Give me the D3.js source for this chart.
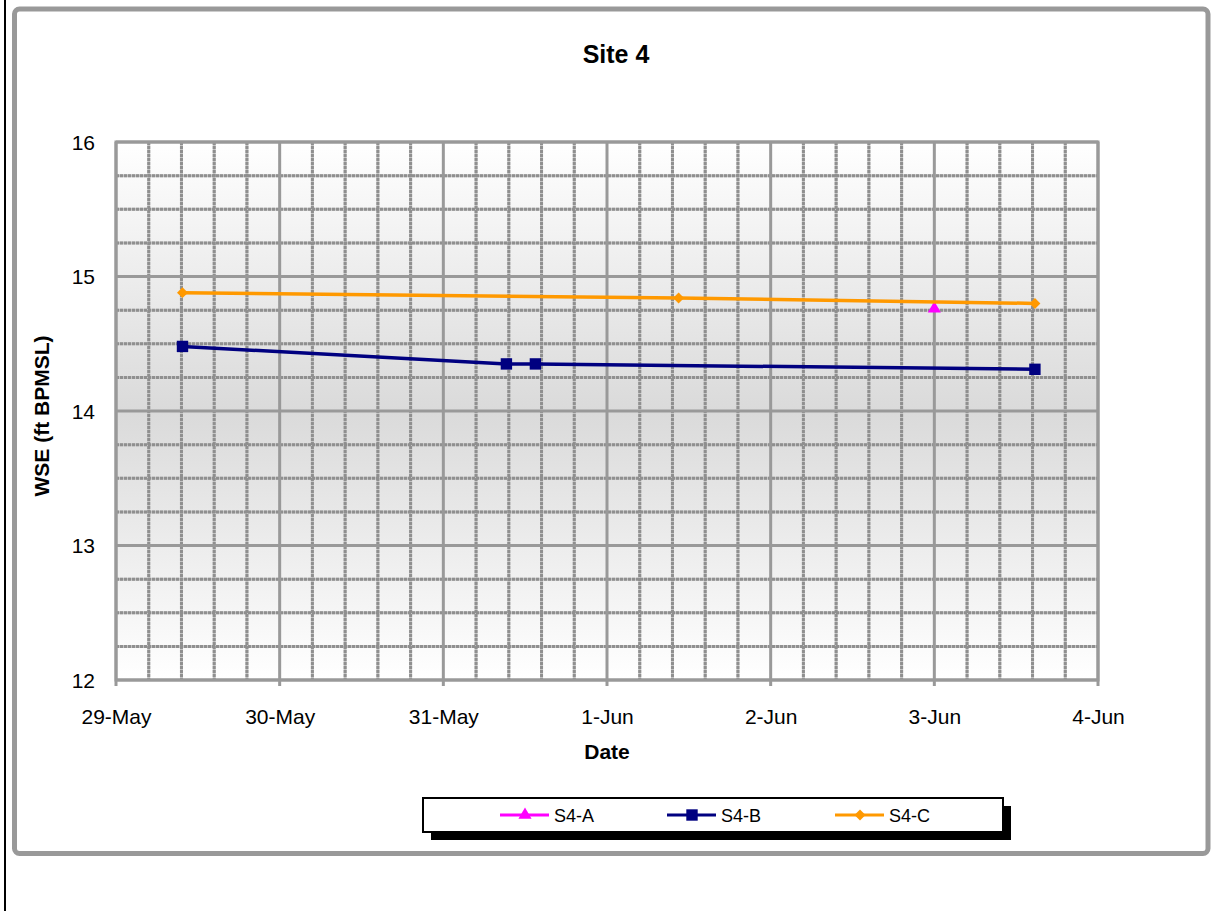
<!DOCTYPE html>
<html>
<head>
<meta charset="utf-8">
<script src="https://cdn.jsdelivr.net/npm/d3@7"></script>
<style>
  html, body { margin: 0; padding: 0; background: #fff; }
  svg { display: block; }
  text { font-family: "Liberation Sans", Arial, sans-serif; fill: #000; }
</style>
</head>
<body>
<svg id="chart" width="1214" height="911"></svg>
<script>
// ---- data ----
const chartTitle = "Site 4";
const xAxisTitle = "Date";
const yAxisTitle = "WSE (ft BPMSL)";
const seriesNames = ["S4-A", "S4-B", "S4-C"];
const seriesColors = ["#FF00FF", "#000080", "#FF9900"];
const seriesMarkers = ["triangle", "square", "diamond"];

const datesA = ["2009-06-03T00:00"];
const valuesA = [14.76];
const datesB = ["2009-05-29T09:45", "2009-05-31T09:15", "2009-05-31T13:30", "2009-06-03T14:45"];
const valuesB = [14.48, 14.35, 14.35, 14.31];
const datesC = ["2009-05-29T09:45", "2009-06-01T10:30", "2009-06-03T14:45"];
const valuesC = [14.88, 14.84, 14.80];

const xDomain = ["2009-05-29T00:00", "2009-06-04T00:00"];
const yDomain = [12, 16];
const yTicks = [12, 13, 14, 15, 16];

// ---- layout ----
const parse = d3.isoParse;
const svg = d3.select("#chart");
const plot = { left: 116, right: 1098, top: 142, bottom: 680 };

const x = d3.scaleTime().domain(xDomain.map(parse)).range([plot.left, plot.right]);
const y = d3.scaleLinear().domain(yDomain).range([plot.bottom, plot.top]);

// outer left black line
svg.append("line").attr("x1", 5).attr("x2", 5).attr("y1", 0).attr("y2", 911)
  .attr("stroke", "#000").attr("stroke-width", 2);

// chart area frame
svg.append("rect").attr("x", 14.5).attr("y", 9).attr("width", 1193.5).attr("height", 844.5)
  .attr("rx", 5).attr("fill", "#fff").attr("stroke", "#999").attr("stroke-width", 5);

// gradient background
const defs = svg.append("defs");
const grad = defs.append("linearGradient").attr("id", "bg").attr("x1", 0).attr("x2", 0).attr("y1", 0).attr("y2", 1);
grad.append("stop").attr("offset", "0%").attr("stop-color", "#ffffff");
grad.append("stop").attr("offset", "50%").attr("stop-color", "#dadada");
grad.append("stop").attr("offset", "100%").attr("stop-color", "#ffffff");

svg.append("rect").attr("x", plot.left).attr("y", plot.top)
  .attr("width", plot.right - plot.left).attr("height", plot.bottom - plot.top)
  .attr("fill", "url(#bg)");

// grid
const t0 = x.domain()[0].getTime(), t1 = x.domain()[1].getTime();
const step = (t1 - t0) / 30; // 0.2 day
const xGrid = d3.range(0, 31).map(i => ({ d: new Date(t0 + i * step), major: i % 5 === 0 }));
const yGrid = d3.range(0, 17).map(i => ({ v: yDomain[0] + i * 0.25, major: i % 4 === 0 }));

const grid = svg.append("g");
// minor: light base + darker dotted overlay
const minorV = xGrid.filter(g => !g.major), minorH = yGrid.filter(g => !g.major);
[["#c4c4c4", null], ["#8f8f8f", "3,1"]].forEach(([col, dash]) => {
  grid.append("g").selectAll("line").data(minorV).join("line")
    .attr("x1", g => x(g.d)).attr("x2", g => x(g.d)).attr("y1", plot.top).attr("y2", plot.bottom)
    .attr("stroke", col).attr("stroke-width", 3).attr("stroke-dasharray", dash);
  grid.append("g").selectAll("line").data(minorH).join("line")
    .attr("x1", plot.left).attr("x2", plot.right).attr("y1", g => y(g.v)).attr("y2", g => y(g.v))
    .attr("stroke", col).attr("stroke-width", 3).attr("stroke-dasharray", dash);
});
// major
grid.selectAll("line.vmajor").data(xGrid.filter(g => g.major)).join("line")
  .attr("x1", g => x(g.d)).attr("x2", g => x(g.d)).attr("y1", plot.top).attr("y2", plot.bottom + 6)
  .attr("stroke", "#999").attr("stroke-width", 3);
grid.selectAll("line.hmajor").data(yGrid.filter(g => g.major)).join("line")
  .attr("x1", plot.left).attr("x2", plot.right).attr("y1", g => y(g.v)).attr("y2", g => y(g.v))
  .attr("stroke", "#999").attr("stroke-width", 3);

// plot border
svg.append("rect").attr("x", plot.left).attr("y", plot.top)
  .attr("width", plot.right - plot.left).attr("height", plot.bottom - plot.top)
  .attr("fill", "none").attr("stroke", "#999").attr("stroke-width", 3);

// axis labels via d3 axes (lines hidden)
const fmt = d3.timeFormat("%-d-%b");
const xAxis = svg.append("g").attr("transform", `translate(0,${plot.bottom})`)
  .call(d3.axisBottom(x).tickValues(xGrid.filter(g => g.major).map(g => g.d)).tickFormat(fmt).tickSize(0).tickPadding(0));
xAxis.select(".domain").remove();
xAxis.selectAll("text").attr("font-size", 21).attr("font-family", "Liberation Sans, Arial, sans-serif")
  .attr("fill", "#000").attr("y", 44).attr("dy", 0);

const yAxis = svg.append("g").attr("transform", `translate(95,0)`)
  .call(d3.axisLeft(y).tickValues(yTicks).tickFormat(d3.format("d")).tickSize(0).tickPadding(0));
yAxis.select(".domain").remove();
yAxis.selectAll("text").attr("font-size", 21).attr("font-family", "Liberation Sans, Arial, sans-serif")
  .attr("fill", "#000").attr("x", 0).attr("dy", "0.35em");

// titles
svg.append("text").attr("x", 616).attr("y", 63).attr("text-anchor", "middle")
  .attr("font-size", 25).attr("font-weight", "bold").text(chartTitle);
svg.append("text").attr("x", 607).attr("y", 759).attr("text-anchor", "middle")
  .attr("font-size", 21).attr("font-weight", "bold").text(xAxisTitle);
svg.append("text").attr("transform", "translate(49,416) rotate(-90)").attr("text-anchor", "middle")
  .attr("font-size", 21).attr("font-weight", "bold").text(yAxisTitle);

// series
const series = [
  { name: seriesNames[0], color: seriesColors[0], marker: seriesMarkers[0], pts: datesA.map((d, i) => ({ d: parse(d), v: valuesA[i] })) },
  { name: seriesNames[1], color: seriesColors[1], marker: seriesMarkers[1], pts: datesB.map((d, i) => ({ d: parse(d), v: valuesB[i] })) },
  { name: seriesNames[2], color: seriesColors[2], marker: seriesMarkers[2], pts: datesC.map((d, i) => ({ d: parse(d), v: valuesC[i] })) }
];

const symbolOf = m => m === "triangle" ? d3.symbolTriangle : d3.symbolSquare;
const sizeOf = m => m === "triangle" ? 75 : m === "square" ? 130 : 60;
const rotOf = m => m === "diamond" ? 45 : 0;

const line = d3.line().x(p => x(p.d)).y(p => y(p.v));
series.forEach(s => {
  svg.append("path").datum(s.pts).attr("d", line).attr("fill", "none")
    .attr("stroke", s.color).attr("stroke-width", 3.5);
  svg.selectAll(null).data(s.pts).join("path")
    .attr("transform", p => `translate(${x(p.d)},${y(p.v)}) rotate(${rotOf(s.marker)})`)
    .attr("d", d3.symbol().type(symbolOf(s.marker)).size(sizeOf(s.marker)))
    .attr("fill", s.color);
});

// legend
const lg = svg.append("g");
lg.append("rect").attr("x", 431).attr("y", 806).attr("width", 580).attr("height", 34).attr("fill", "#000");
lg.append("rect").attr("x", 423).attr("y", 798).attr("width", 580).attr("height", 34)
  .attr("fill", "#fff").attr("stroke", "#000").attr("stroke-width", 2);
const legendX = [525, 692, 860];
series.forEach((s, i) => {
  const cx = legendX[i], cy = 815;
  lg.append("line").attr("x1", cx - 25).attr("x2", cx + 24).attr("y1", cy).attr("y2", cy)
    .attr("stroke", s.color).attr("stroke-width", 3);
  lg.append("path").attr("transform", `translate(${cx},${cy}) rotate(${rotOf(s.marker)})`)
    .attr("d", d3.symbol().type(symbolOf(s.marker)).size(sizeOf(s.marker)))
    .attr("fill", s.color);
  lg.append("text").attr("x", cx + 29).attr("y", 822).attr("font-size", 18).text(s.name);
});
</script>
</body>
</html>
